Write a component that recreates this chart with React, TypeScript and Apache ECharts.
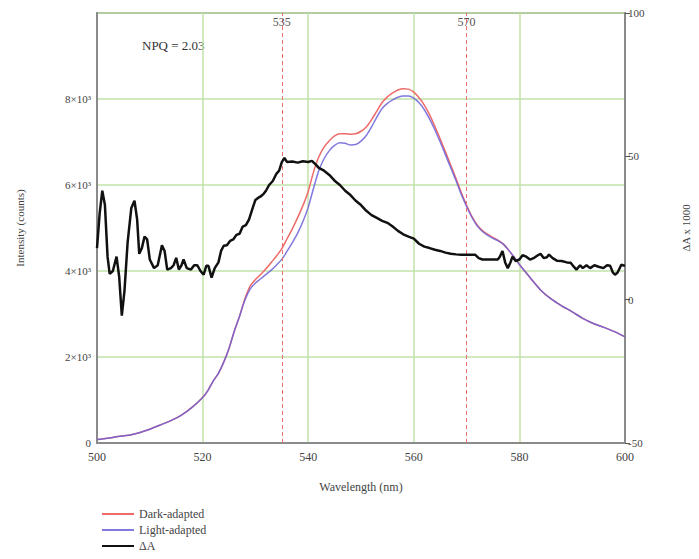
import React, { useEffect, useRef } from "react";
import * as echarts from "echarts";

// ---- Data ----
const xTicks = [500, 520, 540, 560, 580, 600];
const leftTickLabels: Record<number, string> = {
  0: "0",
  2000: "2×10³",
  4000: "4×10³",
  6000: "6×10³",
  8000: "8×10³",
  10000: "",
};
const rightTicks = [-50, 0, 50, 100];

const markerWavelengths = [535, 570];
const npqText = "NPQ = 2.03";

const commonWl = [500, 502, 504, 506, 508, 510, 512, 514, 516, 518, 520, 521, 522, 523, 524, 525, 526, 527];
const commonI = [80, 110, 150, 180, 240, 320, 420, 520, 650, 830, 1060, 1220, 1440, 1620, 1880, 2200, 2600, 2950];

const darkWl = [528, 529, 530, 531, 532, 533, 534, 535, 536, 537, 538, 539, 540, 541, 542, 543, 544, 545, 546, 547, 548, 549, 550, 551, 552, 553, 554, 555, 556, 557, 558, 559, 560, 561, 562, 563, 564, 565, 566, 567, 568, 569, 570, 571, 572, 573, 574, 575, 576];
const darkI = [3350, 3650, 3800, 3920, 4050, 4200, 4350, 4520, 4750, 4980, 5240, 5520, 5850, 6300, 6650, 6880, 7030, 7140, 7190, 7190, 7180, 7190, 7250, 7350, 7520, 7720, 7920, 8050, 8140, 8210, 8240, 8230, 8160, 8030, 7860, 7630, 7360, 7070, 6770, 6460, 6150, 5820, 5530, 5270, 5070, 4940, 4850, 4780, 4710];

const lightWl = [528, 529, 530, 531, 532, 533, 534, 535, 536, 537, 538, 539, 540, 541, 542, 543, 544, 545, 546, 547, 548, 549, 550, 551, 552, 553, 554, 555, 556, 557, 558, 559, 560, 561, 562, 563, 564, 565, 566, 567, 568, 569, 570, 571, 572, 573, 574, 575, 576];
const lightI = [3320, 3580, 3720, 3820, 3920, 4020, 4140, 4270, 4460, 4660, 4880, 5150, 5480, 5920, 6330, 6610, 6800, 6920, 6980, 6970, 6930, 6940, 7020, 7150, 7350, 7580, 7780, 7900, 7980, 8040, 8070, 8070, 8020, 7910, 7750, 7530, 7280, 7000, 6700, 6400, 6100, 5780, 5500, 5250, 5050, 4920, 4830, 4760, 4700];

const tailWl = [577, 578, 579, 580, 581, 582, 584, 586, 588, 590, 592, 594, 596, 598, 600];
const tailI = [4620, 4480, 4320, 4150, 4000, 3850, 3560, 3350, 3190, 3050, 2900, 2780, 2690, 2590, 2470];

const dAWl = [500, 500.5, 501, 501.5, 502, 502.4, 503, 503.7, 504.2, 504.7, 505.2, 505.8, 506.5, 507.1, 507.6, 508, 508.5, 509, 509.5, 510, 510.8, 511.5, 512.3, 512.8, 513.3, 514, 514.5, 515, 515.5, 516, 516.4, 517, 517.8, 518.4, 519, 519.6, 520.2, 520.7, 521.1, 521.7, 522.3, 523, 523.5, 524, 524.6, 525.2, 525.8, 526.4, 527, 527.6, 528.2, 528.8, 529.4, 530, 530.5, 531, 531.6, 532, 532.6, 533.3, 534, 534.5, 535, 535.5, 536, 537, 538, 539, 540, 540.7, 541.5, 542, 543, 544, 545, 546, 547, 548, 549, 550, 551, 552, 553, 554, 555, 556, 557, 558, 559, 560, 561, 562, 563, 564, 565, 566, 567, 568, 569, 570, 571, 571.6, 572.3, 573, 574, 575, 575.9, 576.3, 576.8, 577.3, 577.8, 578.3, 578.7, 579.3, 580, 580.6, 581.3, 582, 582.8, 583.5, 584, 584.6, 585.2, 585.6, 586.3, 587.1, 588, 589, 589.7, 590.3, 590.8, 591.5, 592, 592.7, 593.4, 594.2, 595, 595.9, 596.6, 597.2, 597.7, 598.1, 598.6, 599.3, 600];
const dAVal = [18, 30, 38, 33, 15, 9, 10, 15, 8, -5.6, 3, 20, 32, 34.5, 28, 16, 18, 22, 21, 14, 11, 12, 19, 17, 10.5, 11, 12, 14.6, 10.5, 12, 14, 11, 10.5, 12, 12, 10, 8.7, 11.8, 11.8, 7.7, 11, 13, 17, 18.8, 19, 20.5, 21, 22.6, 23, 25.5, 26, 28, 31.5, 34.8, 35.5, 36, 37, 38, 40, 41.4, 44, 45, 48, 49.4, 48, 48.2, 47.8, 48.3, 48, 48.4, 47, 46, 45, 43.5, 41.5, 40, 38, 36.5, 34.5, 33, 31, 29.5, 28.5, 27.5, 26.8, 25.5, 24, 22.8, 22, 21.3, 19.5, 18.5, 18, 17.4, 17, 16.4, 16, 15.8, 15.7, 15.7, 15.7, 15.7, 14.5, 14, 14, 14, 14, 15, 17, 13, 11, 13, 15, 13.5, 14, 15.5, 15, 14, 14.6, 15.5, 16, 14.5, 14.8, 15.7, 14.5, 13.6, 13.5, 13, 12.9, 11.5, 10.5, 12, 11, 12, 11, 12, 11.5, 11, 12, 11.8, 9.5, 8.7, 9.5, 12.2, 11.8];

const seriesNames = ["Dark-adapted", "Light-adapted", "ΔA"];

const zip = (xs: number[], ys: number[]) => xs.map((x, i) => [x, ys[i]]);

export default function App() {
  const ref = useRef<HTMLDivElement>(null);
  useEffect(() => {
    if (!ref.current) return;
    const chart = echarts.init(ref.current, null, { renderer: "svg" });
    const font = "'Liberation Serif', 'DejaVu Serif', serif";
    const gray = "#8a8a8a";
    const darkData = [...zip(commonWl, commonI), ...zip(darkWl, darkI), ...zip(tailWl, tailI)];
    const lightData = [...zip(commonWl, commonI), ...zip(lightWl, lightI), ...zip(tailWl, tailI)];
    const dAData = zip(dAWl, dAVal);
    chart.setOption({
      animation: false,
      textStyle: { fontFamily: font },
      grid: {
        left: 97,
        right: 67,
        top: 13,
        bottom: 116,
        show: true,
        borderColor: gray,
        borderWidth: 2,
      },
      graphic: [
        {
          type: "text",
          left: 142,
          top: 39,
          style: { text: npqText, fontFamily: font, fontSize: 13, fill: "#333" },
        },
      ],
      legend: {
        orient: "vertical",
        left: 96,
        top: 503,
        itemWidth: 32,
        itemHeight: 14,
        itemGap: 4,
        data: seriesNames,
        itemStyle: { opacity: 0 },
        textStyle: { fontFamily: font, fontSize: 12, color: "#444" },
      },
      xAxis: {
        type: "value",
        min: xTicks[0],
        max: xTicks[xTicks.length - 1],
        interval: 20,
        name: "Wavelength (nm)",
        nameLocation: "middle",
        nameGap: 38,
        nameTextStyle: { fontFamily: font, fontSize: 12, color: "#444" },
        axisLine: { lineStyle: { color: gray, width: 2 } },
        axisTick: { show: false },
        axisLabel: { fontFamily: font, fontSize: 12, color: "#444", margin: 8 },
        splitLine: { show: true, lineStyle: { color: "#c0e2a8", width: 1.5 } },
      },
      yAxis: [
        {
          type: "value",
          min: 0,
          max: 10000,
          interval: 2000,
          name: "Intensity (counts)",
          nameLocation: "middle",
          nameRotate: 90,
          nameGap: 72,
          nameTextStyle: { fontFamily: font, fontSize: 11, color: "#444" },
          axisLine: { show: true, lineStyle: { color: gray, width: 2 } },
          axisTick: { show: false },
          axisLabel: {
            fontFamily: font,
            fontSize: 11,
            color: "#444",
            margin: 6,
            formatter: (v: number) => leftTickLabels[v] ?? "",
          },
          splitLine: { show: true, lineStyle: { color: "#c0e2a8", width: 1.5 } },
        },
        {
          type: "value",
          min: rightTicks[0],
          max: rightTicks[rightTicks.length - 1],
          interval: 50,
          position: "right",
          name: "ΔA x 1000",
          nameLocation: "middle",
          nameRotate: 90,
          nameGap: 55,
          nameTextStyle: { fontFamily: font, fontSize: 11, color: "#444" },
          axisLine: { show: true, lineStyle: { color: gray, width: 2 } },
          axisTick: { show: true, length: 5, lineStyle: { color: "#555" } },
          axisLabel: { fontFamily: font, fontSize: 11, color: "#444", margin: 3 },
          splitLine: { show: false },
        },
      ],
      series: [
        {
          name: seriesNames[0],
          type: "line",
          data: darkData,
          showSymbol: false,
          symbol: "none",
          smooth: 0.3,
          lineStyle: { color: "#ee6a6a", width: 1.5 },
          itemStyle: { color: "#ee6a6a" },
          z: 3,
          markLine: {
            silent: true,
            symbol: "none",
            label: { show: false },
            lineStyle: { color: "#e87070", width: 1, type: [4, 3] },
            data: markerWavelengths.map((w) => ({ xAxis: w })),
          },
          markPoint: {
            silent: true,
            symbol: "circle",
            symbolSize: 0,
            label: {
              show: true,
              position: "bottom",
              distance: 3,
              fontFamily: font,
              fontSize: 12,
              color: "#555",
              formatter: (p: any) => p.name,
            },
            data: markerWavelengths.map((w) => ({ name: String(w), coord: [w, 10000] })),
          },
        },
        {
          name: seriesNames[1],
          type: "line",
          data: lightData,
          showSymbol: false,
          symbol: "none",
          smooth: 0.3,
          lineStyle: { color: "#6b62d8", width: 1.5, opacity: 0.85 },
          itemStyle: { color: "#6b62d8" },
          z: 4,
        },
        {
          name: seriesNames[2],
          type: "line",
          yAxisIndex: 1,
          data: dAData,
          showSymbol: false,
          symbol: "none",
          lineStyle: { color: "#111", width: 2.5 },
          itemStyle: { color: "#111" },
          z: 5,
        },
      ],
    });
    return () => chart.dispose();
  }, []);
  return <div ref={ref} style={{ width: 699, height: 559, position: "absolute", left: 0, top: 0 }} />;
}
